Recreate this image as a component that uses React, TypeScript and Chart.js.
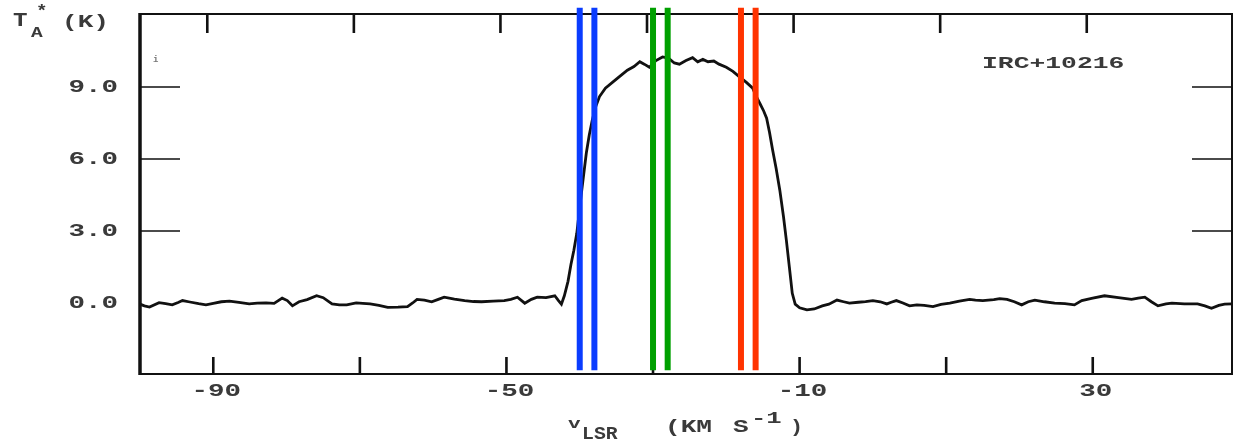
import { useEffect, useRef } from "react";
import { Chart, registerables } from "chart.js";

Chart.register(...registerables);

// Spectrum: LSR velocity (km/s) and antenna temperature T_A* (K)
const velocity = [
  -100.0, -99.4, -98.7, -97.4, -96.5, -95.6, -94.8, -94.2, -93.2, -92.0,
  -91.0, -90.0, -88.9, -87.8, -86.5, -85.1, -84.0, -82.8, -81.7, -80.6,
  -79.9, -79.2, -78.3, -77.2, -75.9, -75.0, -73.8, -72.8, -71.8, -70.5,
  -69.6, -68.6, -67.4, -66.2, -64.8, -63.5, -62.8, -62.2, -61.2, -60.2,
  -59.3, -58.5, -57.1, -55.7, -54.5, -53.4, -51.8, -50.3, -49.4, -48.5,
  -47.5, -46.6, -45.8, -44.6, -43.4, -42.9, -42.5, -42.1, -41.6, -41.2,
  -40.8, -40.4, -39.8, -39.1, -38.7, -38.3, -37.8, -37.3, -36.5, -35.5,
  -34.5, -33.5, -32.6, -31.8, -31.2, -30.5, -29.6, -28.7, -27.9, -27.1,
  -26.4, -25.5, -24.6, -23.9, -23.2, -22.5, -21.7, -21.0, -20.0, -19.1,
  -18.2, -17.3, -16.4, -15.9, -15.4, -14.9, -14.5, -14.1, -13.7, -13.2,
  -12.7, -12.2, -11.8, -11.4, -11.0, -10.6, -10.0, -9.0, -8.0, -6.9,
  -6.0, -4.9, -4.0, -3.2, -2.0, -1.0, 0.0, 1.0, 1.9, 2.5,
  3.2, 4.1, 5.0, 6.0, 7.0, 8.2, 9.3, 10.5, 11.8, 13.2,
  14.0, 15.0, 16.5, 17.3, 18.3, 19.3, 20.3, 21.2, 22.1, 23.4,
  24.8, 26.2, 27.5, 28.5, 30.0, 31.6, 33.5, 35.3, 36.2, 37.1,
  38.0, 38.9, 40.0, 40.8, 42.5, 44.3, 45.3, 46.2, 47.2, 48.0,
  49.0,
];
const antennaTemp = [
  -0.05, -0.12, -0.17, 0.01, -0.03, -0.08, 0.02, 0.1, 0.04, -0.03,
  -0.08, -0.02, 0.05, 0.08, 0.02, -0.04, -0.01, 0.0, -0.02, 0.2,
  0.1, -0.12, 0.05, 0.14, 0.3, 0.22, -0.04, -0.08, -0.08, 0.0,
  -0.02, -0.04, -0.1, -0.18, -0.17, -0.15, 0.0, 0.15, 0.12, 0.05,
  0.15, 0.24, 0.16, 0.1, 0.06, 0.05, 0.08, 0.1, 0.15, 0.24,
  -0.01, 0.15, 0.24, 0.22, 0.3, 0.1, -0.05, 0.3, 0.9, 1.6,
  2.2, 2.9, 4.5, 6.25, 7.0, 7.6, 8.2, 8.6, 8.95, 9.2,
  9.45, 9.7, 9.85, 10.05, 9.95, 9.82, 10.1, 10.25, 10.2, 10.0,
  9.95, 10.1, 10.22, 10.05, 10.15, 10.05, 10.08, 9.95, 9.82, 9.65,
  9.42, 9.2, 8.95, 8.6, 8.3, 8.0, 7.7, 7.1, 6.4, 5.6,
  4.7, 3.6, 2.6, 1.5, 0.4, -0.05, -0.2, -0.29, -0.25, -0.12,
  -0.05, 0.12, 0.05, -0.01, 0.03, 0.06, 0.1, 0.05, -0.04, 0.03,
  0.1, 0.0, -0.12, -0.08, -0.1, -0.15, -0.06, -0.01, 0.08, 0.15,
  0.12, 0.1, 0.14, 0.18, 0.15, 0.05, -0.08, 0.05, 0.12, 0.05,
  -0.01, -0.03, -0.08, 0.1, 0.2, 0.3, 0.22, 0.15, 0.2, 0.24,
  0.05, -0.12, -0.04, -0.01, -0.04, -0.04, -0.12, -0.22, -0.1, -0.05,
  -0.04,
];

// Marker velocities (vertical coloured lines)
const markerVelocities = [-40, -38, -30, -28, -18, -16];
const markerColors = ["#0a3cff", "#0a3cff", "#00a000", "#00a000", "#ff3300", "#ff3300"];
const markerSpan = [-2.8, 12.3];

// Axes
const xMin = -100;
const xMax = 49;
const yMin = -2.96;
const yMax = 12.04;
const xTickValues = [-90, -70, -50, -30, -10, 10, 30];
const xLabelValues = [-90, -50, -10, 30];
const yTickValues = [3, 6, 9];
const yLabelValues = [0, 3, 6, 9];
const yLabelTexts = ["0.0", "3.0", "6.0", "9.0"];
const sourceName = "IRC+10216";

const FONT = '"Liberation Mono", "DejaVu Sans Mono", monospace';
const TEXT_COLOR = "#3a3a3a";

function stretchText(
  ctx: CanvasRenderingContext2D,
  text: string,
  x: number,
  y: number,
  size: number,
  align: CanvasTextAlign,
  sx = 1.45,
  color = TEXT_COLOR
) {
  ctx.save();
  ctx.translate(x, y);
  ctx.scale(sx, 1);
  ctx.font = `bold ${size}px ${FONT}`;
  ctx.fillStyle = color;
  ctx.textAlign = align;
  ctx.textBaseline = "middle";
  ctx.fillText(text, 0, 0);
  ctx.restore();
}

const framePlugin = {
  id: "plotterFrame",
  beforeDatasetsDraw(chart: any) {
    const { ctx, chartArea: a, scales } = chart;
    const xs = scales.x;
    const ys = scales.y;
    ctx.save();
    ctx.strokeStyle = "#111";
    ctx.lineCap = "butt";
    // top, right, bottom
    ctx.lineWidth = 2;
    ctx.beginPath();
    ctx.moveTo(a.left, a.top);
    ctx.lineTo(a.right, a.top);
    ctx.lineTo(a.right, a.bottom);
    ctx.lineTo(a.left, a.bottom);
    ctx.stroke();
    // left (heavier)
    ctx.lineWidth = 3.5;
    ctx.beginPath();
    ctx.moveTo(a.left, a.top - 1);
    ctx.lineTo(a.left, a.bottom + 1);
    ctx.stroke();
    // y inner ticks
    ctx.lineWidth = 1.6;
    for (const v of yTickValues) {
      const py = ys.getPixelForValue(v);
      ctx.beginPath();
      ctx.moveTo(a.left, py);
      ctx.lineTo(a.left + 40, py);
      ctx.moveTo(a.right - 40, py);
      ctx.lineTo(a.right, py);
      ctx.stroke();
    }
    // x inner ticks
    ctx.lineWidth = 2.6;
    for (const v of xTickValues) {
      const px = xs.getPixelForValue(v);
      ctx.beginPath();
      ctx.moveTo(px, a.bottom);
      ctx.lineTo(px, a.bottom - 17);
      ctx.moveTo(px - 6, a.top);
      ctx.lineTo(px - 6, a.top + 19);
      ctx.stroke();
    }
    ctx.restore();
  },
  afterDraw(chart: any) {
    const { ctx, chartArea: a, scales } = chart;
    const xs = scales.x;
    const ys = scales.y;
    // y tick labels
    yLabelValues.forEach((v, i) => {
      stretchText(ctx, yLabelTexts[i], a.left - 22, ys.getPixelForValue(v), 19, "right", 1.45);
    });
    // x tick labels
    for (const v of xLabelValues) {
      stretchText(ctx, String(v), xs.getPixelForValue(v) + 3, a.bottom + 17, 19, "center", 1.45);
    }
    // y axis title: T_A* (K)
    stretchText(ctx, "T", 13, 21, 21, "left", 1.15);
    stretchText(ctx, "A", 31, 33, 15, "left", 1.3);
    stretchText(ctx, "*", 36, 12, 16, "left", 1.2);
    stretchText(ctx, "(K)", 62, 22, 18, "left", 1.45);
    // x axis title: v_LSR (KM S^-1)
    const cx = (a.left + a.right) / 2;
    stretchText(ctx, "v", cx - 118, 424, 15, "left", 1.4);
    stretchText(ctx, "LSR", cx - 104, 434, 18, "left", 1.1);
    stretchText(ctx, "(KM", cx - 21, 427, 18, "left", 1.45);
    stretchText(ctx, "S", cx + 47, 427, 18, "left", 1.45);
    stretchText(ctx, "-1", cx + 65, 419, 16, "left", 1.6);
    stretchText(ctx, ")", cx + 104, 427, 18, "left", 1.2);
    // source name
    stretchText(ctx, sourceName, 982, 64, 17, "left", 1.55);
    // small mark
    stretchText(ctx, "i", 153, 60, 9, "left", 1, "#777");
  },
};

export default function App() {
  const canvasRef = useRef<HTMLCanvasElement | null>(null);

  useEffect(() => {
    if (!canvasRef.current) return;
    const spectrum = velocity.map((v, i) => ({ x: v, y: antennaTemp[i] }));
    const markers = markerVelocities.map((v, i) => ({
      data: [
        { x: v, y: markerSpan[0] },
        { x: v, y: markerSpan[1] },
      ],
      borderColor: markerColors[i],
      borderWidth: 6,
      pointRadius: 0,
      tension: 0,
      clip: false as any,
      order: 0,
    }));
    const chart = new Chart(canvasRef.current, {
      type: "line",
      data: {
        datasets: [
          {
            data: spectrum,
            borderColor: "#111",
            borderWidth: 2.8,
            pointRadius: 0,
            tension: 0,
            order: 1,
          },
          ...markers,
        ],
      },
      options: {
        animation: false,
        responsive: true,
        maintainAspectRatio: false,
        events: [],
        layout: { padding: { top: 14, right: 2, left: 0, bottom: 0 } },
        plugins: {
          legend: { display: false },
          tooltip: { enabled: false },
        },
        scales: {
          x: {
            type: "linear",
            min: xMin,
            max: xMax,
            grid: { display: false },
            border: { display: false },
            ticks: { display: false },
            afterFit: (s: any) => {
              s.height = 74;
            },
          },
          y: {
            type: "linear",
            min: yMin,
            max: yMax,
            grid: { display: false },
            border: { display: false },
            ticks: { display: false },
            afterFit: (s: any) => {
              s.width = 140;
            },
          },
        },
      },
      plugins: [framePlugin],
    });
    return () => chart.destroy();
  }, []);

  return (
    <div
      style={{
        position: "fixed",
        left: 0,
        top: 0,
        width: 1234,
        height: 448,
        background: "#fff",
      }}
    >
      <canvas ref={canvasRef} />
    </div>
  );
}
